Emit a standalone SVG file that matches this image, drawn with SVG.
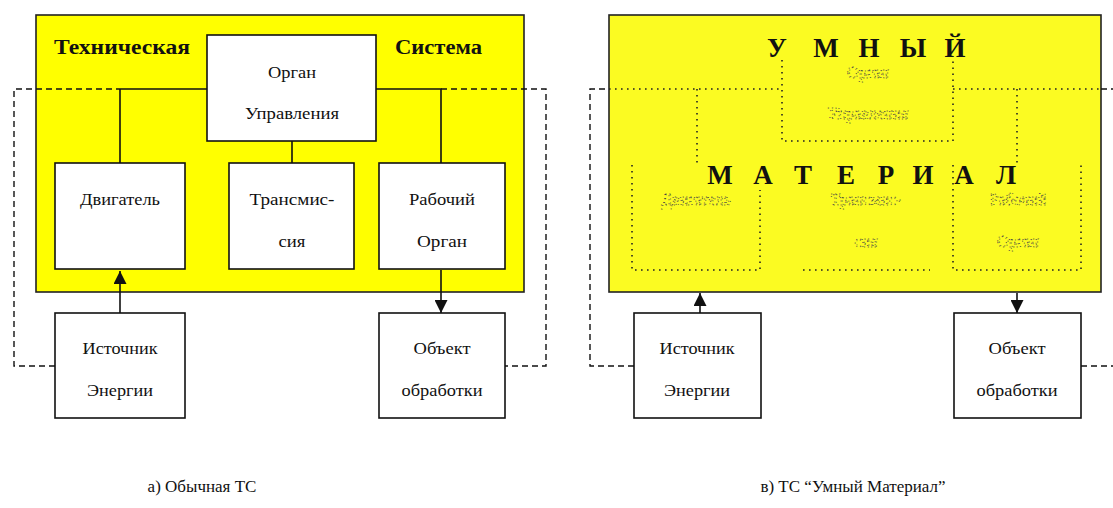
<svg xmlns="http://www.w3.org/2000/svg" width="1113" height="508" viewBox="0 0 1113 508">
<style>
.bg{fill:#ffffff}
.yel{fill:#ffff00;stroke:#222;stroke-width:1.6}
.yel2{fill:#fbfb22;stroke:#222;stroke-width:1.6}
.box{fill:#ffffff;stroke:#111;stroke-width:1.6}
.ln{fill:none;stroke:#111;stroke-width:1.6}
.dash{fill:none;stroke:#111;stroke-width:1.4;stroke-dasharray:6 4}
.dot{fill:none;stroke:#222;stroke-width:1.6;stroke-dasharray:1.6 4.4}
.t{font-family:"Liberation Serif","Times New Roman",serif;font-size:17px;fill:#111;text-anchor:middle}
.h{font-family:"Liberation Serif","Times New Roman",serif;font-size:20px;font-weight:bold;fill:#111}
.big{font-family:"Liberation Serif","Times New Roman",serif;font-size:27px;font-weight:bold;fill:#111;text-anchor:middle}
.gh{font-family:"Liberation Serif","Times New Roman",serif;font-size:16px;fill:none;stroke:#444;stroke-width:0.9;stroke-dasharray:1 3;text-anchor:middle}
.cap{font-family:"Liberation Serif","Times New Roman",serif;font-size:17px;fill:#111;text-anchor:middle}
</style>
<defs>
<marker id="ah" viewBox="0 0 10 10" refX="10" refY="5" markerWidth="15" markerHeight="13" markerUnits="userSpaceOnUse" orient="auto">
<path d="M0,0 L10,5 L0,10 z" fill="#111"/>
</marker>
</defs>
<rect class="bg" x="0" y="0" width="1113" height="508"/>

<!-- LEFT PANEL -->
<g id="system-a">
<rect class="yel" x="36" y="15" width="488" height="277"/>
<text class="h" x="54" y="54" textLength="136" lengthAdjust="spacingAndGlyphs">Техническая</text>
<text class="h" x="395" y="54" textLength="87" lengthAdjust="spacingAndGlyphs">Система</text>
</g>
<g id="connectors-a">
<path class="dash" d="M55 366 H14 V89 H120"/>
<path class="dash" d="M441 89 H546 V366 H505"/>
<path class="ln" d="M120 89 H207 M120 89 V163 M376 89 H441 V163 M292 141 V163"/>
<path class="ln" d="M120 313 V271" marker-end="url(#ah)"/>
<path class="ln" d="M441 270 V313" marker-end="url(#ah)"/>
</g>
<g id="organ-a"><rect class="box" x="207" y="35" width="169" height="106"/>
<text class="t" x="292" y="78" textLength="48" lengthAdjust="spacingAndGlyphs">Орган</text><text class="t" x="292" y="119" textLength="94" lengthAdjust="spacingAndGlyphs">Управления</text></g>
<g id="dvig-a"><rect class="box" x="55" y="163" width="130" height="106"/>
<text class="t" x="120" y="205" textLength="80" lengthAdjust="spacingAndGlyphs">Двигатель</text></g>
<g id="trans-a"><rect class="box" x="229" y="163" width="125" height="106"/>
<text class="t" x="292" y="205" textLength="85" lengthAdjust="spacingAndGlyphs">Трансмис-</text><text class="t" x="292" y="247" textLength="27" lengthAdjust="spacingAndGlyphs">сия</text></g>
<g id="rab-a"><rect class="box" x="379" y="163" width="126" height="106"/>
<text class="t" x="442" y="205" textLength="66" lengthAdjust="spacingAndGlyphs">Рабочий</text><text class="t" x="442" y="247" textLength="50" lengthAdjust="spacingAndGlyphs">Орган</text></g>
<g id="ist-a"><rect class="box" x="55" y="313" width="130" height="105"/>
<text class="t" x="120" y="354" textLength="75" lengthAdjust="spacingAndGlyphs">Источник</text><text class="t" x="120" y="396" textLength="66" lengthAdjust="spacingAndGlyphs">Энергии</text></g>
<g id="obj-a"><rect class="box" x="379" y="313" width="126" height="105"/>
<text class="t" x="442" y="354" textLength="57" lengthAdjust="spacingAndGlyphs">Объект</text><text class="t" x="442" y="396" textLength="81" lengthAdjust="spacingAndGlyphs">обработки</text></g>

<!-- RIGHT PANEL -->
<g id="system-b">
<rect class="yel2" x="609" y="15" width="492" height="277"/>
<g id="ghost-structure">
<path class="dot" d="M609 89 H782 M953 89 H1101"/>
<path class="dot" d="M782 60 V141 H953 V60"/>
<path class="dot" d="M697 89 V163 M1017 89 V163"/>
<path class="dot" d="M632 165 V270 H760 V190"/>
<path class="dot" d="M803 270 H930"/>
<path class="dot" d="M953 165 V270 H1081 V165"/>
<text class="gh" x="868" y="78">Орган</text>
<text class="gh" x="868" y="119">Управления</text>
<text class="gh" x="696" y="205">Двигатель</text>
<text class="gh" x="866" y="205">Трансмис-</text>
<text class="gh" x="866" y="247">сия</text>
<text class="gh" x="1018" y="205">Рабочий</text>
<text class="gh" x="1018" y="247">Орган</text>
</g>
<text class="big" x="777 826 869 913 955" y="57">УМНЫЙ</text>
<text class="big" x="720 763 803 846 886 923 964 1006" y="184">МАТЕРИАЛ</text>
</g>
<g id="connectors-b">
<path class="dash" d="M634 366 H590 V89 H609"/>
<path class="dash" d="M1101 89 H1113"/>
<path class="dash" d="M1081 366 H1113"/>
<path class="ln" d="M700 313 V293" marker-end="url(#ah)"/>
<path class="ln" d="M1017 293 V313" marker-end="url(#ah)"/>
</g>
<g id="ist-b"><rect class="box" x="634" y="313" width="127" height="105"/>
<text class="t" x="697" y="354" textLength="75" lengthAdjust="spacingAndGlyphs">Источник</text><text class="t" x="697" y="396" textLength="66" lengthAdjust="spacingAndGlyphs">Энергии</text></g>
<g id="obj-b"><rect class="box" x="954" y="313" width="127" height="105"/>
<text class="t" x="1017" y="354" textLength="57" lengthAdjust="spacingAndGlyphs">Объект</text><text class="t" x="1017" y="396" textLength="81" lengthAdjust="spacingAndGlyphs">обработки</text></g>

<g id="captions">
<text class="cap" x="202" y="492">а) Обычная ТС</text>
<text class="cap" x="853" y="492">в)  ТС “Умный Материал”</text>
</g>
</svg>
